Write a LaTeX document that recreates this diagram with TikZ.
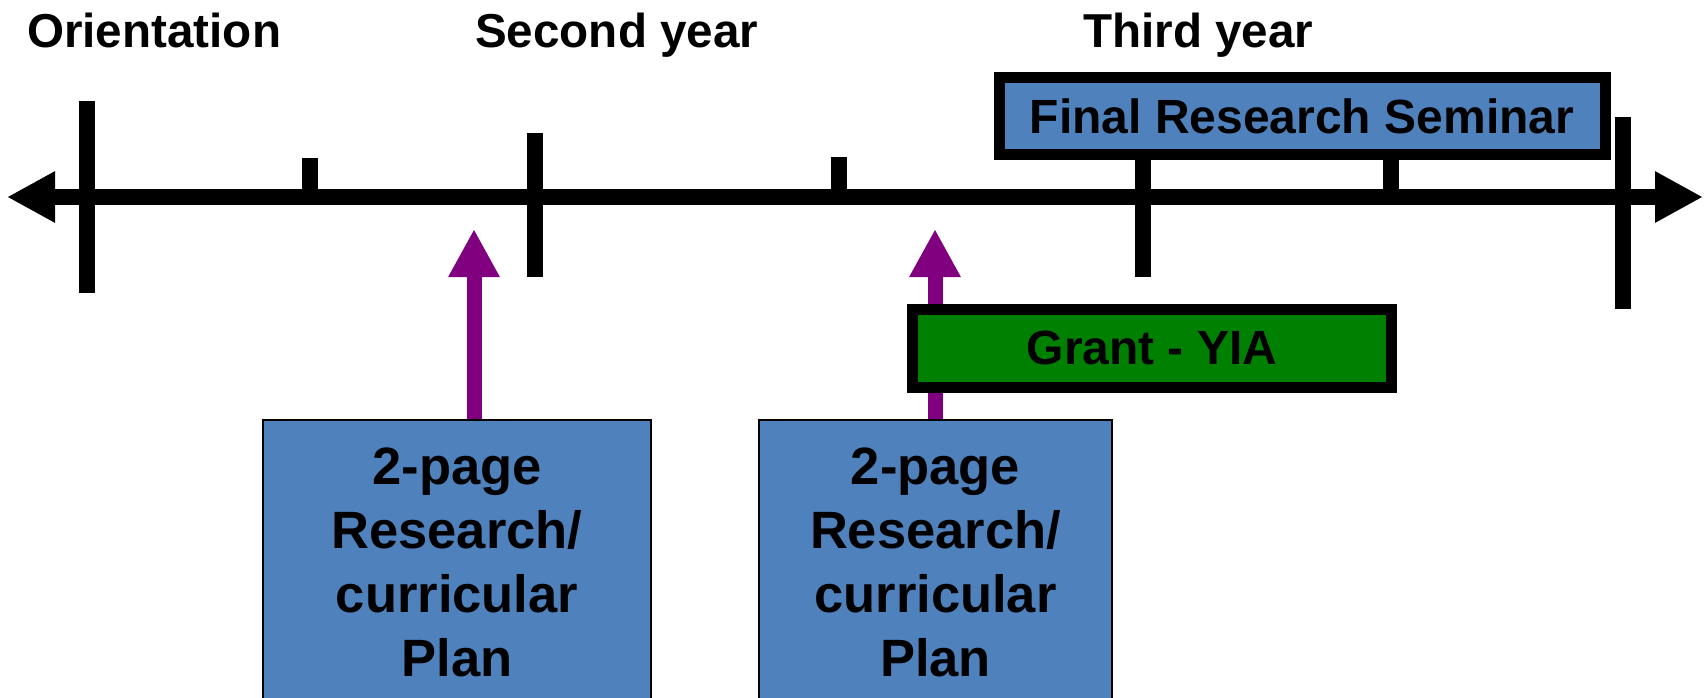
\documentclass[tikz,border=0pt]{standalone}
\usepackage{fontspec}
\setmainfont{Liberation Sans}
\usetikzlibrary{arrows.meta}
\definecolor{boxblue}{HTML}{4F81BD}
\definecolor{grantgreen}{HTML}{008000}
\definecolor{arrowpurple}{HTML}{800080}
\tikzset{
  tickline/.style={line width=16pt},
  mainline/.style={line width=16pt, {Triangle[length=48pt,width=48pt]}-{Triangle[length=48pt,width=48pt]}},
  uparrow/.style={line width=15pt, draw=arrowpurple, -{Triangle[length=48pt,width=48pt]}},
  toplabel/.style={anchor=base west, inner sep=0pt, font=\fontsize{47.6}{56}\selectfont\bfseries},
  barbox/.style={draw=black, line width=11pt, inner sep=0pt, font=\fontsize{48}{56}\selectfont\bfseries},
  planbox/.style={draw=black, line width=1.2pt, fill=boxblue, inner sep=0pt},
  plantext/.style={anchor=north, inner sep=0pt, align=center, font=\fontsize{52.5}{64}\selectfont\bfseries}
}
\begin{document}
\begin{tikzpicture}[x=1pt,y=-1pt]
\useasboundingbox (0,0) rectangle (1705,697);
\clip (0,0) rectangle (1705,697);
% labels
\node[toplabel] (lo) at (27,47) {Orientation};
\node[toplabel] (ls) at (475,47) {Second year};
\node[toplabel] (lt) at (1083,47) {Third year};
% timeline
\coordinate (le) at (7,197);
\coordinate (re) at (1703,197);
\draw[mainline] (le) -- (re);
% ticks
\coordinate (t1a) at (87,101);   \coordinate (t1b) at (87,293);
\coordinate (t2a) at (310,158);  \coordinate (t2b) at (310,205);
\coordinate (t3a) at (535,133);  \coordinate (t3b) at (535,277);
\coordinate (t4a) at (839,157);  \coordinate (t4b) at (839,197);
\coordinate (t5a) at (1143,150); \coordinate (t5b) at (1143,277);
\coordinate (t6a) at (1391,150); \coordinate (t6b) at (1391,197);
\coordinate (t7a) at (1623,117); \coordinate (t7b) at (1623,309);
\foreach \i in {1,...,7} {\draw[tickline] (t\i a) -- (t\i b);}
% final research seminar
\node[barbox, fill=boxblue, minimum width=606pt, minimum height=77pt] (frs) at (1302,116) {Final Research Seminar};
% plan boxes
\node[planbox, minimum width=388pt, minimum height=340pt] (p1) at (457,590) {};
\node[planbox, minimum width=353pt, minimum height=340pt] (p2) at (935.5,590) {};
\node[plantext] (p1t) at (457,448) {2-page\\Research/\\curricular\\Plan};
\node[plantext] (p2t) at (935.5,448) {2-page\\Research/\\curricular\\Plan};
% purple arrows
\coordinate (a1) at (474,229);
\coordinate (a2) at (935,229);
\draw[uparrow] (p1.north -| a1) -- (a1);
\draw[uparrow] (p2.north -| a2) -- (a2);
% grant box
\node[barbox, fill=grantgreen, minimum width=479pt, minimum height=78pt] (grant) at (1152,348) {Grant - YIA};
\end{tikzpicture}
\end{document}
